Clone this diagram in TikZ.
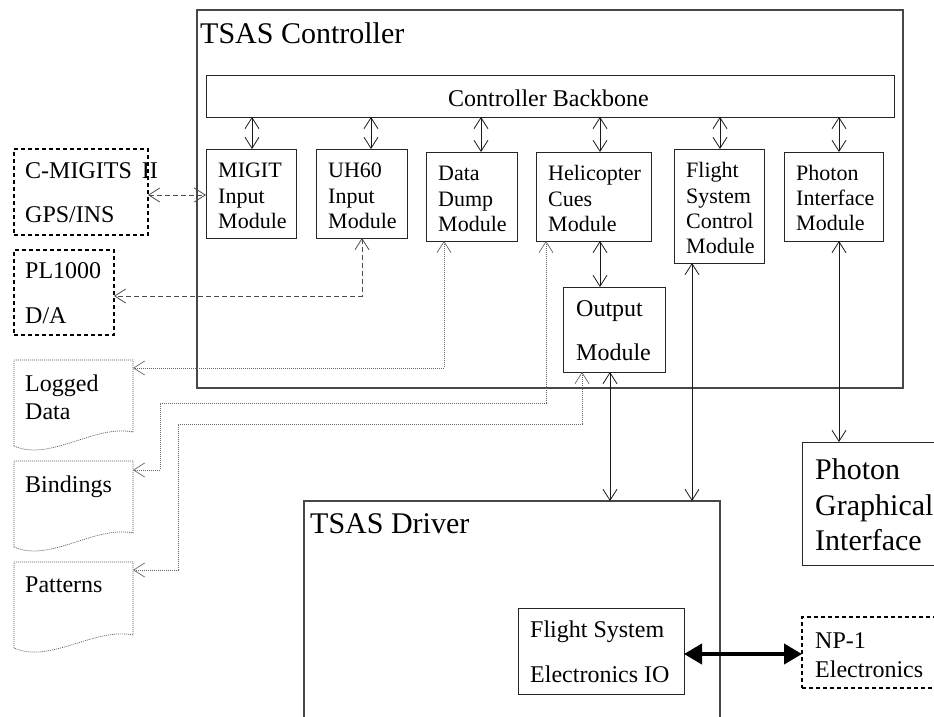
\documentclass[tikz,border=0pt]{standalone}
\usepackage{fontspec}
\setmainfont{Liberation Serif}
\usetikzlibrary{arrows.meta,calc}

\tikzset{
  box/.style={draw=black!85, line width=0.9pt, rectangle, inner sep=0pt, outer sep=0pt},
  frame/.style={box, draw=black!72, line width=1.3pt},
  extbox/.style={box, draw=black, line width=1.4pt, dash pattern=on 4pt off 3pt},
  area/.style={rectangle, inner sep=0pt, outer sep=0pt},
  docline/.style={draw=black!65, line width=0.7pt, dash pattern=on 1pt off 1pt},
  link/.style={draw=black!90, line width=0.8pt,
    {Straight Barb[length=11pt,width=14pt]}-{Straight Barb[length=11pt,width=14pt]}},
  dashlink/.style={link, draw=black!70, dash pattern=on 5pt off 3pt},
  dotlink/.style={link, draw=black!60, line width=0.7pt, dash pattern=on 1pt off 1pt},
  buslink/.style={draw=black, line width=4pt,
    {Triangle[length=18pt,width=20pt]}-{Triangle[length=18pt,width=20pt]}},
  bigtxt/.style={font=\fontsize{30}{36}\selectfont, anchor=base west, inner sep=0pt},
  midtxt/.style={font=\fontsize{24}{28}\selectfont, anchor=base west, inner sep=0pt},
  modtxt/.style={font=\fontsize{22}{26}\selectfont, anchor=base west, inner sep=0pt},
}

% rectangle node from its left, top, right, bottom edges
\newcommand\rbox[6]{\node[#2, minimum width={#5-#3}, minimum height={#6-#4}] (#1) at ({(#3+#5)/2},{(#4+#6)/2}) {};}
% page-like shape with a wavy lower edge
\newcommand\docshape[2]{\draw[docline] (#1.south west) -- (#1.north west) -- (#1.north east)
  -- ($(#1.south east)+(0,-#2)$) .. controls +(-38,-8) and +(36,16) .. (#1.south west);}
% two-headed link from the backbone down to a module
\newcommand\busarrow[2]{\path ([xshift=#2pt]#1.north) coordinate (#1-top);
  \draw[link] (#1-top |- backbone.south) -- (#1-top);}

\begin{document}
\begin{tikzpicture}[x=1pt, y=-1pt]
\useasboundingbox (0,0) rectangle (934,717);
\clip (0,0) rectangle (934,717);

% controller and its modules
\rbox{ctrl}{frame}{197}{10}{903}{388}
\rbox{backbone}{box}{206}{75}{894}{117}
\rbox{migit}{box}{206}{149}{296}{238}
\rbox{uh60}{box}{316}{149}{407}{238}
\rbox{dump}{box}{426}{152}{517}{241}
\rbox{heli}{box}{536}{152}{651}{241}
\rbox{fsc}{box}{674}{149}{764}{263}
\rbox{photon}{box}{784}{152}{883}{241}
\rbox{output}{box}{563}{287}{665}{372}

% external devices
\rbox{cmig}{extbox}{14}{149}{148}{235}
\rbox{pl}{extbox}{14}{250}{114}{335}
\rbox{np1}{extbox}{802}{617}{960}{688}
\rbox{pgi}{box}{802}{442}{960}{565}

% driver
\rbox{driver}{frame}{304}{501}{720}{740}
\rbox{fseio}{box}{518}{608}{684}{694}

% data files
\rbox{logged}{area}{14}{360}{133}{446}
\rbox{bindings}{area}{14}{461}{133}{547}
\rbox{patterns}{area}{14}{562}{133}{648}
\docshape{logged}{14}
\docshape{bindings}{14}
\docshape{patterns}{13}

% labels
\node[bigtxt] (tctrl) at (200,44) {TSAS Controller};
\node[midtxt] (tbb) at (448,106) {Controller Backbone};
\node[modtxt] (tm1) at (218,177) {MIGIT};
\node[modtxt] (tm2) at (218,203) {Input};
\node[modtxt] (tm3) at (218,228) {Module};
\node[modtxt] (tu1) at (328,177) {UH60};
\node[modtxt] (tu2) at (328,203) {Input};
\node[modtxt] (tu3) at (328,228) {Module};
\node[modtxt] (td1) at (438,180) {Data};
\node[modtxt] (td2) at (438,206) {Dump};
\node[modtxt] (td3) at (438,231) {Module};
\node[modtxt] (th1) at (548,180) {Helicopter};
\node[modtxt] (th2) at (548,206) {Cues};
\node[modtxt] (th3) at (548,231) {Module};
\node[modtxt] (tf1) at (686,177) {Flight};
\node[modtxt] (tf2) at (686,203) {System};
\node[modtxt] (tf3) at (686,228) {Control};
\node[modtxt] (tf4) at (686,253) {Module};
\node[modtxt] (tp1) at (796,180) {Photon};
\node[modtxt] (tp2) at (796,205) {Interface};
\node[modtxt] (tp3) at (796,230) {Module};
\node[midtxt] (to1) at (576,316) {Output};
\node[midtxt] (to2) at (576,360) {Module};
\node[midtxt] (tc1) at (25,178) {C-MIGITS\hspace{10pt}II};
\node[midtxt] (tc2) at (25,222) {GPS/INS};
\node[midtxt] (tl1) at (25,278) {PL1000};
\node[midtxt] (tl2) at (25,323) {D/A};
\node[midtxt] (tg1) at (25,391) {Logged};
\node[midtxt] (tg2) at (25,419) {Data};
\node[midtxt] (tbi) at (25,492) {Bindings};
\node[midtxt] (tpa) at (25,592) {Patterns};
\node[bigtxt] (tdrv) at (310,533) {TSAS Driver};
\node[midtxt] (te1) at (530,637) {Flight System};
\node[midtxt] (te2) at (530,682) {Electronics IO};
\node[bigtxt] (tg3) at (815,479) {Photon};
\node[bigtxt] (tg4) at (815,515) {Graphical};
\node[bigtxt] (tg5) at (815,550) {Interface};
\node[midtxt] (tn1) at (815,648) {NP-1};
\node[midtxt] (tn2) at (815,677) {Electronics};

% backbone links
\busarrow{migit}{1}
\busarrow{uh60}{9.5}
\busarrow{dump}{9.5}
\busarrow{heli}{6.5}
\busarrow{fsc}{1}
\busarrow{photon}{5.5}

% module links
\path ([xshift=6.5pt]heli.south) coordinate (heli-bot);
\draw[link] (heli-bot) -- (heli-bot |- output.north);
\path ([xshift=-4pt]output.south) coordinate (out-bot);
\draw[link] (out-bot) -- (out-bot |- driver.north);
\path ([xshift=-27pt]fsc.south) coordinate (fsc-bot);
\draw[link] (fsc-bot) -- (fsc-bot |- driver.north);
\path ([xshift=5.5pt]photon.south) coordinate (ph-bot);
\draw[link] (ph-bot) -- (ph-bot |- pgi.north);

% device links
\path ([yshift=-3pt]cmig.east) coordinate (cm-r);
\draw[dashlink] (cm-r) -- (cm-r -| migit.west);
\draw[dashlink] ([xshift=0.5pt]uh60.south) |- ([yshift=-3.5pt]pl.east);
\path ([yshift=-3pt]fseio.east) coordinate (io-r);
\draw[buslink] (io-r) -- (io-r -| np1.west);

% file links
\coordinate (bendA) at (160,403);
\coordinate (bendB) at (178,424);
\draw[dotlink] ([xshift=-27.5pt]dump.south) |- ($(logged.north east)+(0,8)$);
\draw[dotlink] ([xshift=-47.5pt]heli.south) |- (bendA) |- ($(bindings.north east)+(0,9)$);
\draw[dotlink] ([xshift=-32pt]output.south) |- (bendB) |- ($(patterns.north east)+(0,8)$);
\end{tikzpicture}
\end{document}
